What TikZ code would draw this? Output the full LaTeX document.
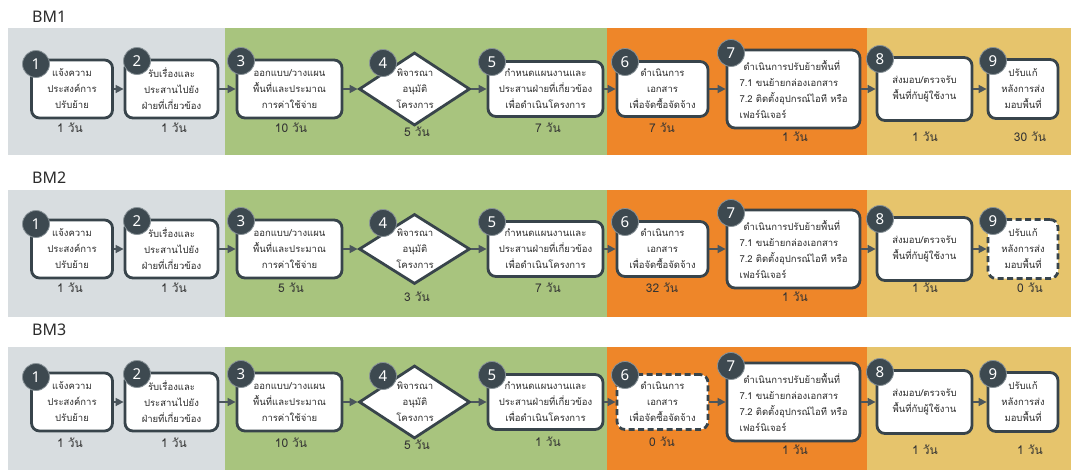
\documentclass[tikz,border=0pt]{standalone}
\usepackage{fontspec}
\usetikzlibrary{shapes.geometric,arrows.meta}
\newfontfamily\thai[Script=Thai]{Loma}
\newfontfamily\numfont{Noto Sans}
\definecolor{bandgray}{HTML}{D8DDE0}
\definecolor{bandgreen}{HTML}{A8C47E}
\definecolor{bandorange}{HTML}{EE8629}
\definecolor{bandyellow}{HTML}{E6C46C}
\definecolor{outline}{HTML}{38444B}
\definecolor{circ}{HTML}{3D4950}
\definecolor{ring}{HTML}{8A9499}
\definecolor{txt}{HTML}{2B2B2B}
\definecolor{durtxt}{HTML}{333333}
\definecolor{arrowc}{HTML}{4A555C}
\tikzset{
  box/.style={draw=outline, line width=2.8pt, rounded corners=8pt, fill=white, inner sep=0pt, align=center, text=txt, font=\thai\fontsize{9.5}{16}\selectfont},
  dashbox/.style={box, dash pattern=on 6pt off 3.5pt},
  dia/.style={diamond, draw=outline, line width=2.8pt, fill=white, inner sep=0pt},
  diatext/.style={align=center, text=txt, inner sep=0pt, font=\thai\fontsize{9.5}{16}\selectfont},
  num/.style={circle, fill=circ, draw=ring, line width=0.8pt, minimum size=27pt, inner sep=0pt, text=white, font=\numfont\bfseries\fontsize{15}{15}\selectfont},
  dur/.style={font=\thai\fontsize{12}{12}\selectfont, text=durtxt, inner sep=0pt},
  flow/.style={draw=arrowc, line width=1.6pt, -{Triangle[length=8pt,width=8pt]}},
  bmtitle/.style={font=\numfont\fontsize{16}{16}\selectfont, text=txt, anchor=west, inner sep=0pt},
}
% #1 prefix, #2 centre y, #3 style of box 6, #4 style of box 9, #5 diamond height
\newcommand\bmrow[5]{%
  \node[box, minimum width=81pt, minimum height=58pt] (#1b1) at (72,#2) {แจ้งความ\\ประสงค์การ\\ปรับย้าย};
  \node[box, minimum width=93pt, minimum height=58pt] (#1b2) at (171.5,#2) {รับเรื่องและ\\ประสานไปยัง\\ฝ่ายที่เกี่ยวข้อง};
  \node[box, minimum width=105pt, minimum height=58pt] (#1b3) at (289.5,#2) {ออกแบบ/วางแผน\\พื้นที่และประมาณ\\การค่าใช้จ่าย};
  \node[dia, minimum width=111pt, minimum height=#5pt] (#1b4) at (414.5,#2) {};
  \node[diatext] (#1t4) at (415,#2) {พิจารณา\\อนุมัติ\\โครงการ};
  \node[box, minimum width=115pt, minimum height=55pt] (#1b5) at (545.5,#2) {กำหนดแผนงานและ\\ประสานฝ่ายที่เกี่ยวข้อง\\เพื่อดำเนินโครงการ};
  \node[#3, minimum width=91pt, minimum height=55pt] (#1b6) at (662.5,#2) {ดำเนินการ\\เอกสาร\\เพื่อจัดซื้อจัดจ้าง};
  \node[box, minimum width=133pt, minimum height=78pt, align=left] (#1b7) at (793.5,#2) {\hspace{4pt}ดำเนินการปรับย้ายพื้นที่\\7.1 ขนย้ายกล่องเอกสาร\\7.2 ติดตั้งอุปกรณ์ไอที หรือ\\เฟอร์นิเจอร์};
  \node[box, minimum width=95pt, minimum height=63pt] (#1b8) at (924.5,#2) {ส่งมอบ/ตรวจรับ\\พื้นที่กับผู้ใช้งาน};
  \node[#4, minimum width=70pt, minimum height=59pt] (#1b9) at (1023,#2) {ปรับแก้\\หลังการส่ง\\มอบพื้นที่};
  \draw[flow] (#1b1.east) -- (#1b2.west);
  \draw[flow] (#1b2.east) -- (#1b3.west);
  \draw[flow] (#1b3.east) -- (#1b4.west);
  \draw[flow] (#1b4.east) -- (#1b5.west);
  \draw[flow] (#1b5.east) -- (#1b6.west);
  \draw[flow] (#1b6.east) -- (#1b7.west);
  \draw[flow] (#1b7.east) -- (#1b8.west);
  \draw[flow] (#1b8.east) -- (#1b9.west);
  \node[num] (#1c1) at (36,{#2-25}) {1};
  \node[num] (#1c2) at (137,{#2-28}) {2};
  \node[num] (#1c3) at (241,{#2-28}) {3};
  \node[num] (#1c4) at (383,{#2-26}) {4};
  \node[num] (#1c5) at (492,{#2-27}) {5};
  \node[num] (#1c6) at (625,{#2-27}) {6};
  \node[num] (#1c7) at (731,{#2-36}) {7};
  \node[num] (#1c8) at (880,{#2-30}) {8};
  \node[num] (#1c9) at (993,{#2-28}) {9};
}
\newcommand\bands[2]{%
  \fill[bandgray] (8,#1) rectangle (225,#2);
  \fill[bandgreen] (225,#1) rectangle (607,#2);
  \fill[bandorange] (607,#1) rectangle (867,#2);
  \fill[bandyellow] (867,#1) rectangle (1071,#2);
}
\begin{document}
\begin{tikzpicture}[x=1pt,y=-1pt]
  \useasboundingbox[fill=white] (0,0) rectangle (1071,472);
  \bands{28}{155}
  \bands{190}{317}
  \bands{347}{470}
  \node[bmtitle] (t1) at (32,17) {BM1};
  \node[bmtitle] (t2) at (32,178) {BM2};
  \node[bmtitle] (t3) at (32,330) {BM3};
  % BM1
  \bmrow{a}{89}{box}{box}{73}
  \node[dur] (ad1) at (70,128) {1 วัน};
  \node[dur] (ad2) at (174,128) {1 วัน};
  \node[dur] (ad3) at (291,128) {10 วัน};
  \node[dur] (ad4) at (417,132) {5 วัน};
  \node[dur] (ad5) at (548,128) {7 วัน};
  \node[dur] (ad6) at (662,128) {7 วัน};
  \node[dur] (ad7) at (795,137) {1 วัน};
  \node[dur] (ad8) at (925,137) {1 วัน};
  \node[dur] (ad9) at (1030,137) {30 วัน};
  % BM2
  \bmrow{b}{249}{box}{dashbox}{70}
  \node[dur] (bd1) at (70,288) {1 วัน};
  \node[dur] (bd2) at (174,288) {1 วัน};
  \node[dur] (bd3) at (291,288) {5 วัน};
  \node[dur] (bd4) at (417,297) {3 วัน};
  \node[dur] (bd5) at (548,288) {7 วัน};
  \node[dur] (bd6) at (662,288) {32 วัน};
  \node[dur] (bd7) at (795,297) {1 วัน};
  \node[dur] (bd8) at (925,288) {1 วัน};
  \node[dur] (bd9) at (1030,288) {0 วัน};
  % BM3
  \bmrow{c}{402}{dashbox}{box}{73}
  \node[dur] (cd1) at (70,443) {1 วัน};
  \node[dur] (cd2) at (174,443) {1 วัน};
  \node[dur] (cd3) at (291,443) {10 วัน};
  \node[dur] (cd4) at (417,445) {5 วัน};
  \node[dur] (cd5) at (548,442) {1 วัน};
  \node[dur] (cd6) at (662,442) {0 วัน};
  \node[dur] (cd7) at (795,450) {1 วัน};
  \node[dur] (cd8) at (925,450) {1 วัน};
  \node[dur] (cd9) at (1030,450) {1 วัน};
\end{tikzpicture}
\end{document}
